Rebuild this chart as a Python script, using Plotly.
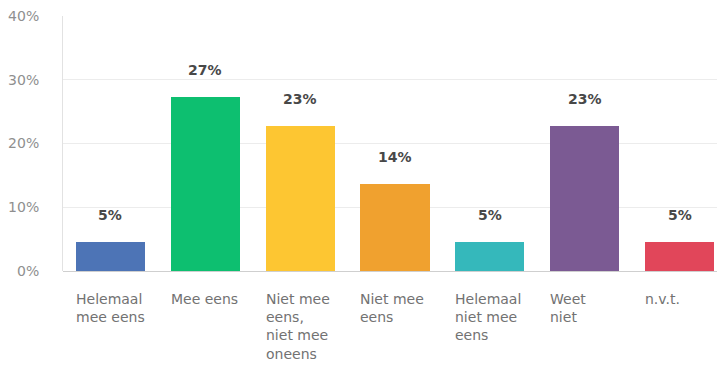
import plotly.graph_objects as go

# Survey answer shares (percent of respondents)
categories = [
    "Helemaal<br>mee eens",
    "Mee eens",
    "Niet mee<br>eens,<br>niet mee<br>oneens",
    "Niet mee<br>eens",
    "Helemaal<br>niet mee<br>eens",
    "Weet<br>niet",
    "n.v.t.",
]
shares = [4.55, 27.27, 22.73, 13.64, 4.55, 22.73, 4.55]
bar_colors = ["#4d74b6", "#0dbf70", "#fdc632", "#f0a12f", "#35b8bb", "#7b5a93", "#e1465a"]
y_ticks = [0, 10, 20, 30, 40]
y_tick_labels = ["0%", "10%", "20%", "30%", "40%"]

FONT = "DejaVu Sans, sans-serif"
x_pos = list(range(len(categories)))
bar_width = 0.73

fig = go.Figure()
fig.add_trace(go.Bar(
    x=x_pos,
    y=shares,
    width=bar_width,
    marker=dict(color=bar_colors, line=dict(width=0)),
    hoverinfo="skip",
))

annotations = []
for xi, (cat, val) in enumerate(zip(categories, shares)):
    # value label above each bar
    annotations.append(dict(
        x=xi, y=val, xref="x", yref="y",
        text=f"<b>{val:.0f}%</b>",
        showarrow=False, yanchor="bottom", yshift=17,
        font=dict(family=FONT, size=14, color="#484848"),
    ))
    # category label, left-aligned with the bar edge
    annotations.append(dict(
        x=xi - bar_width / 2, y=0, xref="x", yref="y",
        text=cat, align="left",
        showarrow=False, xanchor="left", yanchor="top", yshift=-18, xshift=-2,
        font=dict(family=FONT, size=14, color="#727272"),
    ))

fig.update_layout(
    width=717, height=367,
    margin=dict(l=63, r=0, t=16, b=96),
    paper_bgcolor="white", plot_bgcolor="white",
    showlegend=False,
    bargap=0,
    annotations=annotations,
    xaxis=dict(
        range=[-0.5, 6.395],
        showticklabels=False, showgrid=False, zeroline=False,
        showline=False, fixedrange=True,
    ),
    yaxis=dict(
        range=[0, 40],
        tickvals=y_ticks, ticktext=y_tick_labels,
        showgrid=True, gridcolor="#ececec", gridwidth=1,
        zeroline=True, zerolinecolor="#cfcfcf", zerolinewidth=1,
        showline=True, linecolor="#e2e2e2", linewidth=1,
        ticks="", ticklabelstandoff=20,
        tickfont=dict(family=FONT, size=14, color="#8f8f8f"),
        fixedrange=True,
    ),
)

fig.write_html("out.html")
